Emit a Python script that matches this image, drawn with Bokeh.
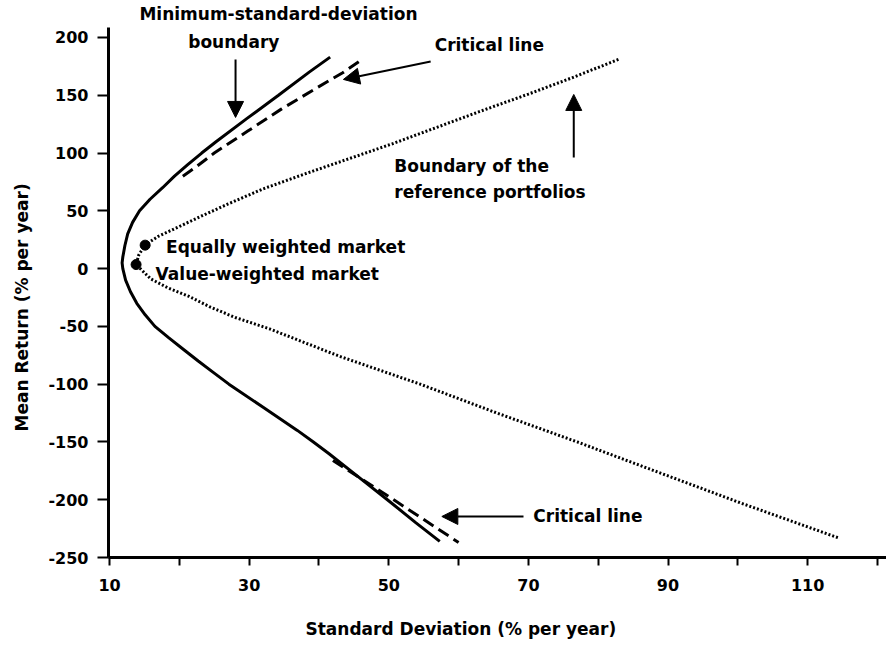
from bokeh.plotting import figure
from bokeh.models import Label, Arrow, NormalHead, FixedTicker, Title
from bokeh.embed import file_html
from bokeh.resources import INLINE

# Minimum-standard-deviation boundary (solid)
min_sd = [41.6, 38.6, 34.2, 29.7, 25.3, 23.2, 21.2, 19.3, 17.6, 15.8, 14.3, 13.3, 12.6, 12.2, 11.9, 11.8,
          11.9, 12.3, 13.0, 13.9, 15.1, 16.5, 18.5, 20.6, 22.7, 24.9, 27.1, 32.0, 36.9, 39.2, 41.4, 45.6,
          49.8, 53.9, 57.3]
min_mu = [183, 170, 150, 130, 110, 100, 90, 80, 70, 60, 50, 40, 30, 20, 10, 5,
          0, -10, -20, -30, -40, -50, -60, -70, -80, -90, -100, -120, -140, -150, -160, -180,
          -200, -220, -236]

# Critical lines (dashed)
crit_up_sd = [20.5, 22.4, 25.0, 29.8, 34.6, 39.3, 43.4, 46.4]
crit_up_mu = [80, 88, 100, 119, 138, 155, 169.5, 182]
crit_lo_sd = [42.0, 51.2, 60.0]
crit_lo_mu = [-166, -202, -237]

# Boundary of the reference portfolios (dotted)
ref_sd = [82.9, 76.2, 70.0, 63.5, 57.0, 50.5, 44.5, 38.0, 32.0, 27.0, 23.0, 19.5, 17.0, 15.1, 14.2, 13.8,
          15.9, 18.3, 21.4, 24.4, 28.0, 32.9, 43.0, 54.5, 65.5, 77.0, 88.5, 100.5, 114.4]
ref_mu = [181, 165, 151, 137, 122.5, 108, 95.5, 82, 69, 56, 45, 35, 28, 20.5, 12, 3.5,
          -8.9, -16.5, -24.1, -33.2, -42.3, -52.1, -76, -100, -125, -150, -176, -203, -233]

# Market portfolios
mkt_names = ["Equally weighted market", "Value-weighted market"]
mkt_sd = [15.1, 13.8]
mkt_mu = [20.3, 3.5]

x_ticks = list(range(10, 121, 10))
x_labels = {t: (str(t) if t % 20 == 10 else "") for t in x_ticks}
y_ticks = list(range(-250, 201, 50))
y_labels = {t: str(t) for t in y_ticks}

FONT = "DejaVu Sans"

p = figure(width=886, height=640, output_backend="svg", toolbar_location=None,
           x_range=(9.85, 121.3), y_range=(-250, 232.0),
           min_border_left=108, min_border_right=0, min_border_top=0, min_border_bottom=83)
p.outline_line_color = None
p.xgrid.visible = False
p.ygrid.visible = False
p.background_fill_color = "white"
p.border_fill_color = "white"

for ax in (p.xaxis[0], p.yaxis[0]):
    ax.axis_line_width = 3
    ax.axis_line_color = "black"
    ax.major_tick_line_width = 2
    ax.major_tick_line_color = "black"
    ax.minor_tick_line_color = None
    ax.major_tick_in = 0
    ax.major_label_text_font = FONT
    ax.major_label_text_font_style = "bold"
    ax.major_label_text_font_size = "16px"
    ax.major_label_text_color = "black"
    ax.axis_label = " "
    ax.axis_label_text_font_size = "1px"

p.xaxis.ticker = FixedTicker(ticks=x_ticks)
p.xaxis.major_label_overrides = x_labels
p.xaxis.major_tick_out = 8
p.xaxis.major_label_standoff = 13
p.xaxis.axis_label_standoff = 19

p.yaxis.ticker = FixedTicker(ticks=y_ticks)
p.yaxis.major_label_overrides = y_labels
p.yaxis.major_tick_out = 11
p.yaxis.major_label_standoff = 9
p.yaxis.axis_label_standoff = 10
p.yaxis.bounds = (-250, 208.6)

p.add_layout(Title(text="Mean Return (% per year)", align="left", offset=126, standoff=0,
                   text_font=FONT, text_font_style="bold", text_font_size="17px",
                   text_color="black"), "left")
p.add_layout(Title(text="Standard Deviation (% per year)", align="left", offset=197, standoff=0,
                   text_font=FONT, text_font_style="bold", text_font_size="17px",
                   text_color="black"), "below")

p.line(min_sd, min_mu, line_color="black", line_width=3)
p.line(crit_up_sd, crit_up_mu, line_color="black", line_width=3, line_dash="12 6")
p.line(crit_lo_sd, crit_lo_mu, line_color="black", line_width=3, line_dash="12 6")
p.line(ref_sd, ref_mu, line_color="black", line_width=3, line_dash="2 2")
p.scatter(mkt_sd, mkt_mu, size=10, fill_color="black", line_color="black")

def lab(x, y, text, align="left"):
    p.add_layout(Label(x=x, y=y, text=text, text_align=align, text_baseline="middle",
                       text_font=FONT, text_font_style="bold", text_font_size="17px",
                       text_color="black"))

lab(34.2, 219.9, "Minimum-standard-deviation", "center")
lab(27.8, 195.7, "boundary", "center")
lab(64.4, 193.9, "Critical line", "center")
lab(50.8, 88.4, "Boundary of the")
lab(50.8, 66.7, "reference portfolios")
lab(18.1, 19.1, mkt_names[0])
lab(16.6, -5.1, mkt_names[1])
lab(70.7, -214.5, "Critical line")

def arrow(x0, y0, x1, y1, size=16):
    p.add_layout(Arrow(end=NormalHead(size=size, fill_color="black", line_color="black"),
                       x_start=x0, y_start=y0, x_end=x1, y_end=y1,
                       line_width=2, line_color="black"))

arrow(28.05, 181, 28.05, 130.8)
arrow(56.0, 179.2, 43.5, 163.7)
arrow(76.5, 96.2, 76.5, 150.7)
arrow(69.3, -214.5, 57.6, -214.5)

open("out.html", "w").write(file_html(p, INLINE))
